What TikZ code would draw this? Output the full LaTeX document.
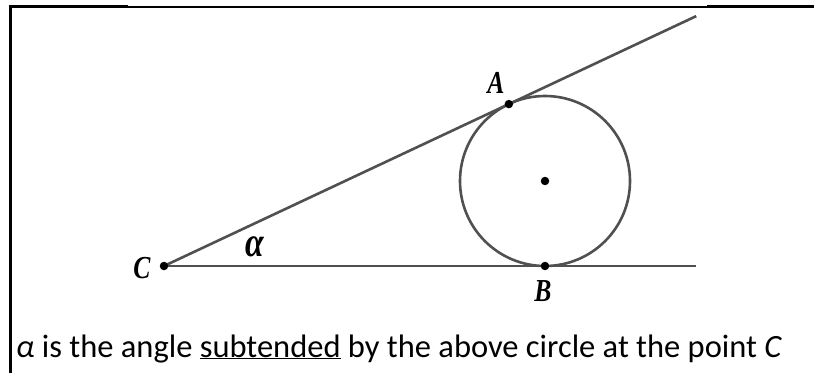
\documentclass[tikz,border=0pt]{standalone}
\usepackage{fontspec}
\setmainfont{Carlito}
\newfontfamily\lblfont[FakeStretch=0.8]{Liberation Serif}
\usetikzlibrary{calc}
\definecolor{linegray}{RGB}{80,80,80}
\tikzset{
  geoline/.style={draw=linegray, line width=2.6pt},
  ptdot/.style={circle, fill=black, inner sep=0pt, minimum size=8.5pt},
  ptlabel/.style={font=\lblfont\bfseries\itshape\fontsize{32}{34}\selectfont, inner sep=0pt},
  framethick/.style={draw=black, line width=3pt},
  framethin/.style={draw=black, line width=1.2pt}
}
\begin{document}
\begin{tikzpicture}[x=1pt,y=1pt]
\useasboundingbox (0,0) rectangle (814,373);
% frame
\draw[framethick] (10,367.5) -- (10,0);
\draw[framethick] (8.5,366) -- (128,366);
\draw[framethin] (128,366) -- (707,366);
\draw[framethick] (707,366) -- (814,366);
% geometry
\coordinate (C) at (164,107);
\coordinate (O) at (545,192);
\coordinate (B) at (545,107);
\coordinate (A) at ($(C)+(25.15:381)$);
\coordinate (Uend) at ($(C)+(25.15:588)$);
\coordinate (Lend) at (696,107);
\draw[geoline] (O) circle (85);
\draw[geoline] (C) -- (Lend);
\draw[geoline] (C) -- (Uend);
\node[ptdot] (Cd) at (C) {};
\node[ptdot] (Ad) at (A) {};
\node[ptdot] (Bd) at (B) {};
\node[ptdot] (Od) at (O) {};
\node[ptlabel] (Cl) at (142,105) {C};
\node[ptlabel] (Al) at (496,290) {A};
\node[ptlabel] (Bl) at (543,82) {B};
\node[ptlabel, font=\lblfont\bfseries\itshape\fontsize{42}{44}\selectfont] (al) at (255,126) {α};
% caption
\node[anchor=base west, inner sep=0pt, font=\fontsize{32.5}{35}\selectfont] (cap) at (16,16)
  {\textit{α} is the angle \underline{subtended} by the above circle at the point \textit{C}};
\end{tikzpicture}
\end{document}
